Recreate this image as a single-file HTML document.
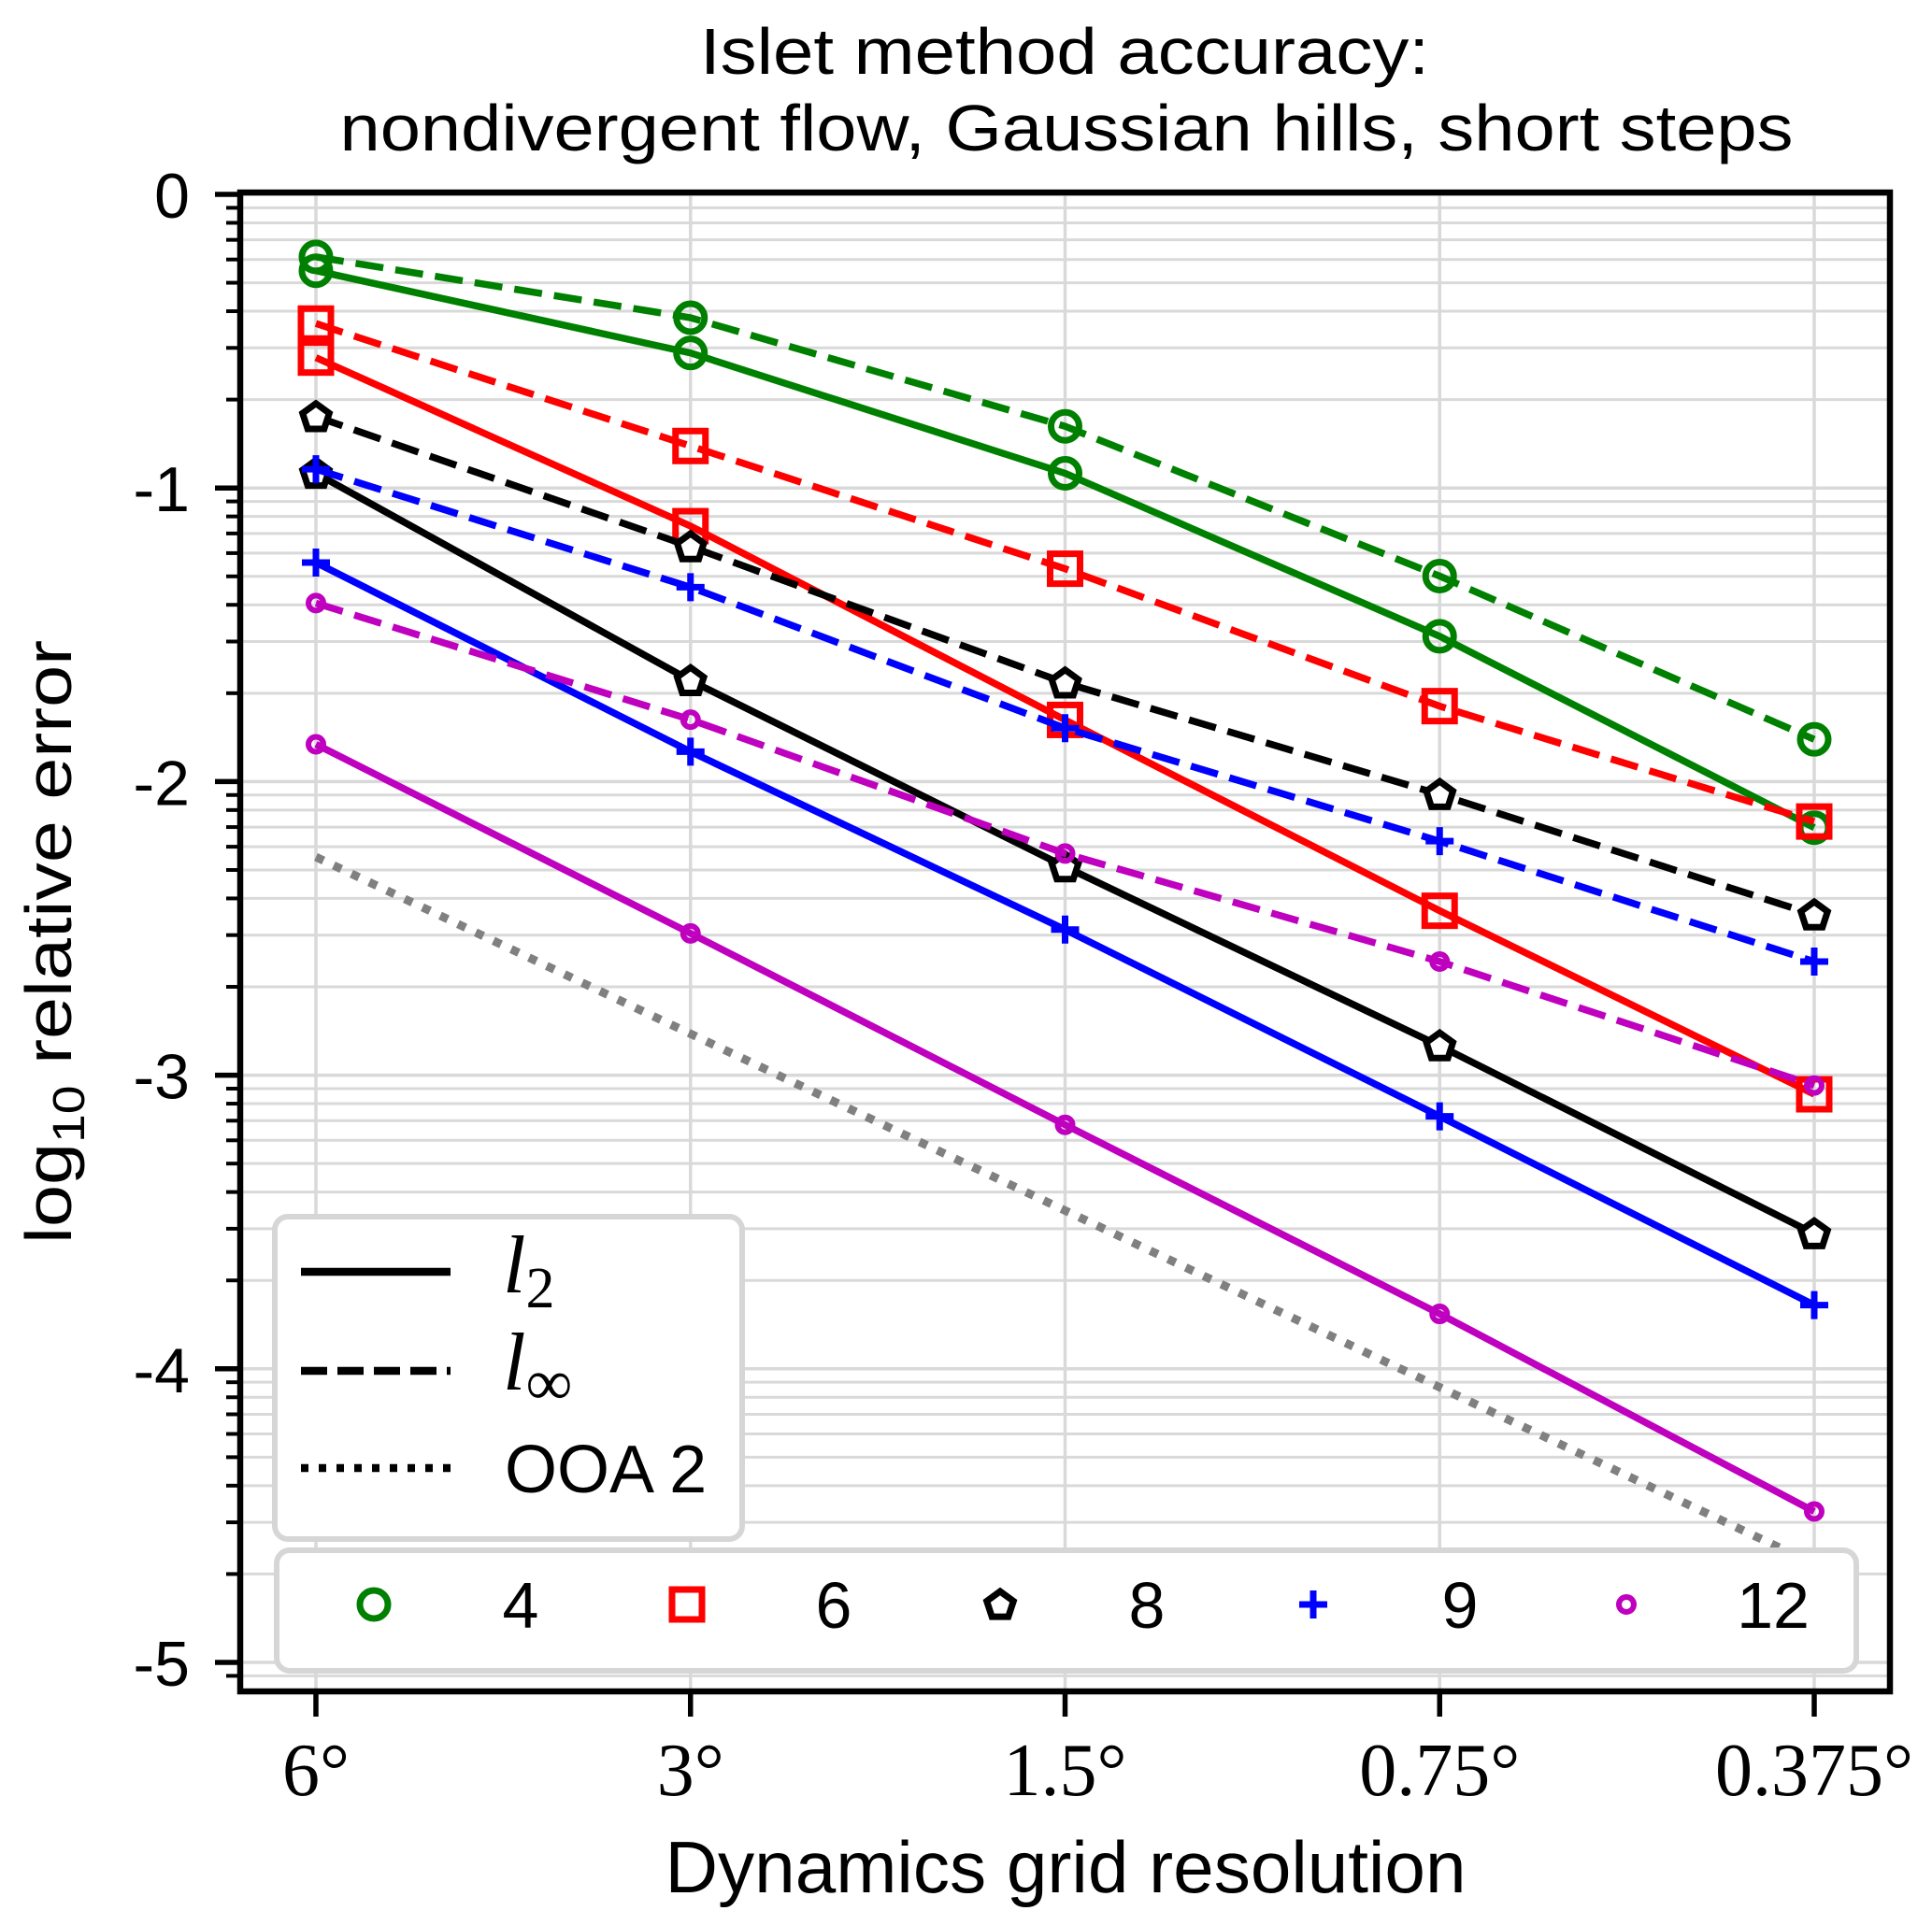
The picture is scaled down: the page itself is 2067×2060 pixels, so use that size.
<!DOCTYPE html>
<html><head><meta charset="utf-8"><style>
html,body{margin:0;padding:0;background:#fff;}
svg{display:block;}
</style></head><body>
<svg id="chart" xmlns="http://www.w3.org/2000/svg" width="2067" height="2060" viewBox="0 0 2067 2060" font-family="'Liberation Sans', sans-serif">
<rect x="0" y="0" width="2067" height="2060" fill="#fff"/>
<g id="grid"></g>
<g id="series"></g>
<g id="axes"></g>
<text x="1139" y="79" font-size="70" text-anchor="middle" textLength="780" lengthAdjust="spacingAndGlyphs">Islet method accuracy:</text>
<text x="1141" y="161" font-size="70" text-anchor="middle" textLength="1555" lengthAdjust="spacingAndGlyphs">nondivergent flow, Gaussian hills, short steps</text>
<text x="1140" y="2025" font-size="78" text-anchor="middle" textLength="857" lengthAdjust="spacingAndGlyphs">Dynamics grid resolution</text>
<text transform="translate(76,1008) rotate(-90)" font-size="70" text-anchor="middle" textLength="646" lengthAdjust="spacingAndGlyphs">log<tspan font-size="48" dy="14">10</tspan><tspan dy="-14"> relative error</tspan></text>
<g id="legend1">
<rect x="294" y="1302" width="500" height="345" rx="14" fill="#fff" stroke="#d6d6d6" stroke-width="6"/>
<line x1="322" y1="1361" x2="482" y2="1361" stroke="#000" stroke-width="8.5"/>
<text x="538" y="1383" font-size="88" font-family="'Liberation Serif', serif" font-style="italic">l<tspan font-size="62" font-style="normal" dy="16">2</tspan></text>
<line x1="322" y1="1467" x2="482" y2="1467" stroke="#000" stroke-width="8.5" stroke-dasharray="28 11"/>
<text x="538" y="1487" font-size="88" font-family="'Liberation Serif', serif" font-style="italic">l<tspan font-size="70" font-style="normal" dy="16">∞</tspan></text>
<line x1="322" y1="1571" x2="482" y2="1571" stroke="#000" stroke-width="8.5" stroke-dasharray="8 11"/>
<text x="540" y="1597" font-size="72">OOA 2</text>
</g>
<g id="legend2">
<rect x="296" y="1659" width="1690" height="129" rx="14" fill="#fff" stroke="#d6d6d6" stroke-width="6"/>
</g>
</svg>
<script>
const xLabels = ["6°", "3°", "1.5°", "0.75°", "0.375°"];
const orders = ["4", "6", "8", "9", "12"];
const colors = ["#008000", "#ff0000", "#000000", "#0000ff", "#bf00bf"];
const markers = ["circle", "square", "pentagon", "plus", "dot"];
const l2_4 = [-0.26, -0.54, -0.95, -1.505, -2.157];
const linf_4 = [-0.213, -0.42, -0.79, -1.30, -1.856];
const l2_6 = [-0.556, -1.13, -1.79, -2.44, -3.065];
const linf_6 = [-0.44, -0.857, -1.275, -1.743, -2.136];
const l2_8 = [-0.95, -1.656, -2.29, -2.90, -3.54];
const linf_8 = [-0.757, -1.20, -1.664, -2.044, -2.454];
const l2_9 = [-1.254, -1.898, -2.504, -3.14, -3.783];
const linf_9 = [-0.936, -1.338, -1.818, -2.203, -2.613];
const l2_12 = [-1.873, -2.517, -3.169, -3.813, -4.486];
const linf_12 = [-1.392, -1.789, -2.245, -2.613, -3.035];
const ooa2 = [-2.257, -2.859, -3.461, -4.063, -4.665];
const yTicks = [0, -1, -2, -3, -4, -5];
const yTickLabels = ["0", "-1", "-2", "-3", "-4", "-5"];

const L = 257, R = 2022, T = 206, B = 1810;
const X0 = 338, XS = 400.75;
const Y0 = 208, YS = 314.2;
const xs = i => X0 + i * XS;
const ys = v => Y0 - v * YS;
const NS = "http://www.w3.org/2000/svg";
function mk(tag, attrs, parent) {
  const e = document.createElementNS(NS, tag);
  for (const k in attrs) e.setAttribute(k, attrs[k]);
  parent.appendChild(e);
  return e;
}
const grid = document.getElementById('grid');
const axes = document.getElementById('axes');
const series = document.getElementById('series');

const minorVals = [];
for (let d = 0; d >= -6; d--) {
  for (let k = 2; k <= 9; k++) {
    const v = d - 1 + Math.log10(k);
    if (ys(v) > T + 2 && ys(v) < B - 2) minorVals.push(v);
  }
}
minorVals.forEach(v => {
  const g = mk('line', {x1: L, x2: R, y1: ys(v), y2: ys(v), stroke: '#d9d9d9', 'stroke-width': 3}, grid);
  
  
  const t = mk('line', {x1: L - 15, x2: L, y1: ys(v), y2: ys(v), stroke: '#000', 'stroke-width': 4}, axes);
  
  
});
yTicks.forEach((v, i) => {
  const g = mk('line', {x1: L, x2: R, y1: ys(v), y2: ys(v), stroke: '#d9d9d9', 'stroke-width': 3.5}, grid);
  
  
  const t = mk('line', {x1: L - 27, x2: L, y1: ys(v), y2: ys(v), stroke: '#000', 'stroke-width': 5.5}, axes);
  
  
  const tx = mk('text', {x: 203, y: ys(v) + 25, 'font-size': 68, 'text-anchor': 'end'}, axes);
  tx.textContent = yTickLabels[i];
  
  
});
xLabels.forEach((lab, i) => {
  const g = mk('line', {x1: xs(i), x2: xs(i), y1: T, y2: B, stroke: '#d9d9d9', 'stroke-width': 3.5}, grid);
  
  
  const t = mk('line', {x1: xs(i), x2: xs(i), y1: B, y2: B + 27, stroke: '#000', 'stroke-width': 5.5}, axes);
  
  
  const tx = mk('text', {x: xs(i), y: 1921, 'font-size': 80, 'text-anchor': 'middle', 'font-family': "'Liberation Serif', serif"}, axes);
  tx.textContent = lab;
  
  
});
const frame = mk('rect', {x: L, y: T, width: R - L, height: B - T, fill: 'none', stroke: '#000', 'stroke-width': 6.5}, axes);



const defs = mk('defs', {}, document.getElementById('chart'));
const cp = mk('clipPath', {id: 'clip'}, defs);
mk('rect', {x: L, y: T, width: R - L, height: B - T}, cp);
series.setAttribute('clip-path', 'url(#clip)');

function path(vals) {
  return vals.map((v, i) => (i ? 'L' : 'M') + xs(i).toFixed(1) + ',' + ys(v).toFixed(1)).join(' ');
}
function marker(kind, cx, cy, color, parent) {
  let e;
  if (kind === 'circle') e = mk('circle', {cx, cy, r: 15, fill: 'none', stroke: color, 'stroke-width': 7}, parent);
  else if (kind === 'square') e = mk('rect', {x: cx - 16, y: cy - 16, width: 32, height: 32, fill: 'none', stroke: color, 'stroke-width': 7}, parent);
  else if (kind === 'pentagon') {
    const pts = [];
    for (let k = 0; k < 5; k++) { const a = -Math.PI / 2 + k * 2 * Math.PI / 5; pts.push((cx + 15 * Math.cos(a)).toFixed(1) + ',' + (cy + 1 + 15 * Math.sin(a)).toFixed(1)); }
    e = mk('polygon', {points: pts.join(' '), fill: '#fff', stroke: color, 'stroke-width': 7, 'stroke-linejoin': 'miter'}, parent);
  } else if (kind === 'plus') e = mk('path', {d: `M${cx - 15},${cy} H${cx + 15} M${cx},${cy - 15} V${cy + 15}`, stroke: color, 'stroke-width': 7, fill: 'none'}, parent);
  else e = mk('circle', {cx, cy, r: 8, fill: 'none', stroke: color, 'stroke-width': 6}, parent);
  return e;
}

const ooaLine = mk('path', {d: path(ooa2), fill: 'none', stroke: '#808080', 'stroke-width': 9, 'stroke-dasharray': '9 12'}, series);



const l2Sets = [l2_4, l2_6, l2_8, l2_9, l2_12];
const linfSets = [linf_4, linf_6, linf_8, linf_9, linf_12];
for (let s = 0; s < 5; s++) {
  const ld = mk('path', {d: path(linfSets[s]), fill: 'none', stroke: colors[s], 'stroke-width': 7.5, 'stroke-dasharray': '30 13'}, series);
  
  
  linfSets[s].forEach((v, i) => {
    const m = marker(markers[s], xs(i), ys(v), colors[s], series);
    
    
  });
  const ls = mk('path', {d: path(l2Sets[s]), fill: 'none', stroke: colors[s], 'stroke-width': 7.5}, series);
  
  
  l2Sets[s].forEach((v, i) => {
    const m = marker(markers[s], xs(i), ys(v), colors[s], series);
    
    
  });
}

const lg2 = document.getElementById('legend2');
orders.forEach((o, s) => {
  const mx = 400 + s * 335;
  const m = marker(markers[s], mx, 1717, colors[s], lg2);
  
  
  const t = mk('text', {x: mx + 157, y: 1742, 'font-size': 70, 'text-anchor': 'middle'}, lg2);
  t.textContent = o;
  
  
});
</script>
</body></html>
